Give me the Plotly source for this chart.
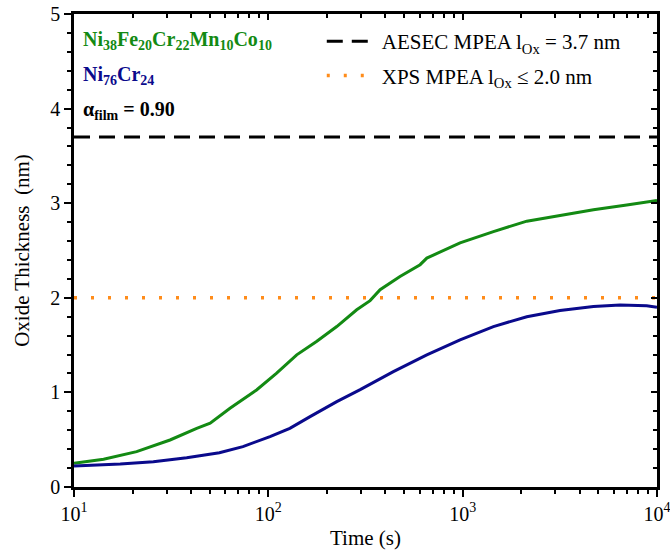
import plotly.graph_objects as go

# Data
t_mpea = [10, 14.2, 21, 31.2, 42.8, 50.2, 63.5, 87, 110, 140, 177, 225, 285, 334, 376, 476, 604, 654, 970, 1440, 2139, 3170, 4710, 6990, 10000]
d_mpea = [0.25, 0.293, 0.374, 0.497, 0.62, 0.674, 0.833, 1.026, 1.20, 1.397, 1.538, 1.696, 1.873, 1.97, 2.085, 2.226, 2.35, 2.42, 2.58, 2.70, 2.81, 2.87, 2.93, 2.98, 3.03]

t_nicr = [10, 17.3, 25.6, 38, 56, 74, 102, 129, 164, 225, 297, 440, 654, 970, 1440, 2139, 3170, 4710, 6460, 8850, 10000]
d_nicr = [0.222, 0.243, 0.268, 0.31, 0.363, 0.427, 0.533, 0.62, 0.744, 0.903, 1.03, 1.22, 1.397, 1.556, 1.696, 1.80, 1.866, 1.908, 1.923, 1.915, 1.90]

aesec_val = 3.7
xps_val = 2.0
x_span = [10, 10000]

x_tickvals = [10, 100, 1000, 10000]
x_ticktext = ["10<sup>1</sup>", "10<sup>2</sup>", "10<sup>3</sup>", "10<sup>4</sup>"]
x_minor = [m * 10**e for e in (1, 2, 3) for m in range(2, 10)]
y_tickvals = [0, 1, 2, 3, 4, 5]

GREEN = "#138a13"
BLUE = "#0a0a8c"
ORANGE = "#ff8c1a"
FONT = "Liberation Serif"

fig = go.Figure()
fig.add_trace(go.Scatter(x=x_span, y=[aesec_val] * 2, mode="lines", xaxis="x2", yaxis="y2",
                         line=dict(color="black", width=3, dash="16px,9px"), legendgroup="a",
                         name="AESEC MPEA l<sub>Ox</sub> = 3.7 nm"))
fig.add_trace(go.Scatter(x=x_span, y=[xps_val] * 2, mode="lines", xaxis="x2", yaxis="y2",
                         line=dict(color=ORANGE, width=3.5, dash="3px,14px"), legendgroup="b",
                         name="XPS MPEA l<sub>Ox</sub> ≤ 2.0 nm"))
fig.add_trace(go.Scatter(x=t_mpea, y=d_mpea, mode="lines",
                         line=dict(color=GREEN, width=3), showlegend=False))
fig.add_trace(go.Scatter(x=t_nicr, y=d_nicr, mode="lines",
                         line=dict(color=BLUE, width=3), showlegend=False))

fig.add_annotation(xref="paper", yref="paper", x=0.012, y=0.945, xanchor="left", yanchor="middle",
                   text="<b>Ni<sub>38</sub>Fe<sub>20</sub>Cr<sub>22</sub>Mn<sub>10</sub>Co<sub>10</sub></b>",
                   showarrow=False, font=dict(family=FONT, size=20, color=GREEN))
fig.add_annotation(xref="paper", yref="paper", x=0.012, y=0.871, xanchor="left", yanchor="middle",
                   text="<b>Ni<sub>76</sub>Cr<sub>24</sub></b>",
                   showarrow=False, font=dict(family=FONT, size=20, color=BLUE))
fig.add_annotation(xref="paper", yref="paper", x=0.012, y=0.795, xanchor="left", yanchor="middle",
                   text="<b>α<sub>film</sub> = 0.90</b>",
                   showarrow=False, font=dict(family=FONT, size=20, color="black"))

base = dict(showline=True, linecolor="black", linewidth=2.5, tickwidth=2, tickcolor="black",
            showgrid=False, zeroline=False, automargin=False,
            tickfont=dict(family=FONT, size=20, color="black"))
minor_x = dict(tickvals=x_minor, ticklen=4, tickwidth=1.5, tickcolor="black")
minor_y = dict(dtick=0.2, tick0=0, ticklen=4, tickwidth=1.5, tickcolor="black")

fig.update_layout(
    xaxis=dict(type="log", range=[1, 4.0001], tickvals=x_tickvals, ticktext=x_ticktext,
               ticks="outside", ticklen=7, minor=dict(ticks="outside", **minor_x),
               ticklabeloverflow="allow",
               title=dict(text="Time (s)", font=dict(family=FONT, size=21, color="black"), standoff=7),
               **base),
    xaxis2=dict(type="log", range=[1, 4.0001], tickvals=x_tickvals, overlaying="x", side="top",
                anchor="y", showticklabels=False, ticks="inside", ticklen=6,
                minor=dict(ticks="inside", **minor_x), **base),
    yaxis=dict(range=[0, 5], tickvals=y_tickvals, ticks="outside", ticklen=7,
               minor=dict(ticks="outside", **minor_y),
               title=dict(text="Oxide Thickness  (nm)", font=dict(family=FONT, size=21, color="black"), standoff=15),
               **base),
    yaxis2=dict(range=[0, 5], tickvals=y_tickvals, overlaying="y", side="right", anchor="x",
                showticklabels=False, ticks="inside", ticklen=6,
                minor=dict(ticks="inside", **minor_y), **base),
    width=670, height=552, margin=dict(l=74, r=13, t=14, b=65),
    plot_bgcolor="white", paper_bgcolor="white",
    font=dict(family=FONT, size=20, color="black"),
    legend=dict(x=0.425, y=0.985, xanchor="left", yanchor="top", itemwidth=50,
                bgcolor="rgba(0,0,0,0)", font=dict(family=FONT, size=21),
                tracegroupgap=4),
)

fig.write_html("out.html")
